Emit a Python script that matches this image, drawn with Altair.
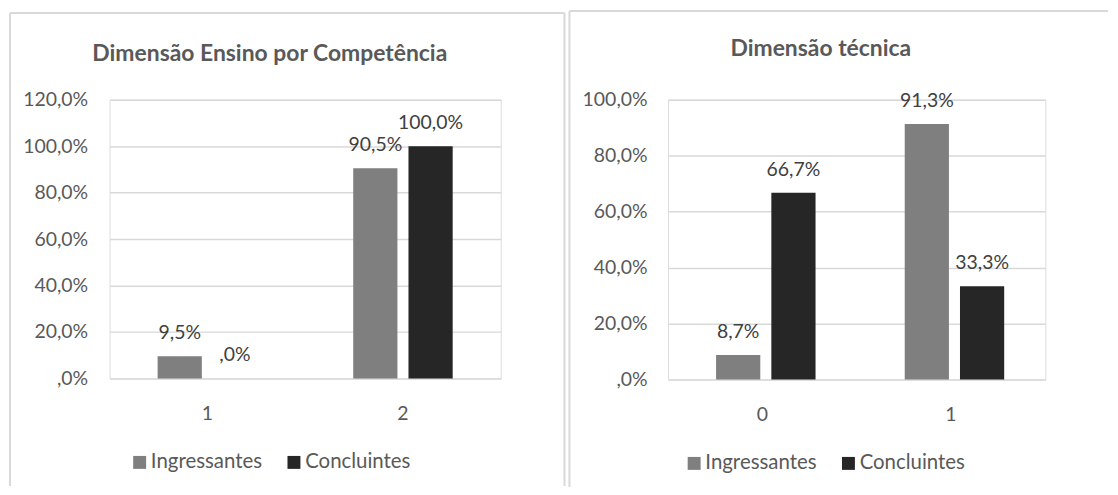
import altair as alt
import pandas as pd

series = ["Ingressantes", "Concluintes"]
series_colors = ["#7f7f7f", "#262626"]

left_title = "Dimensão Ensino por Competência"
left_categories = ["1", "2"]
left_ingressantes = [0.095, 0.905]
left_concluintes = [0.0, 1.0]
left_ticks = [0.0, 0.2, 0.4, 0.6, 0.8, 1.0, 1.2]

right_title = "Dimensão técnica"
right_categories = ["0", "1"]
right_ingressantes = [0.087, 0.913]
right_concluintes = [0.667, 0.333]
right_ticks = [0.0, 0.2, 0.4, 0.6, 0.8, 1.0]

FONT = "Lato"
TXT = "#595959"
LBL = "#404040"
GRID = "#d9d9d9"
FS = 19.5

PCT_AXIS = "datum.value == 0 ? ',0%' : replace(format(datum.value, '.1%'), '.', ',')"
PCT_DATA = "datum.v == 0 ? ',0%' : replace(format(datum.v, '.1%'), '.', ',')"


def one():
    return alt.Chart(pd.DataFrame({"k": [0]}))


def seg(x, y, x2, y2, color=GRID, width=2.0, opacity=1.0):
    return one().mark_rule(color=color, strokeWidth=width, opacity=opacity).encode(
        x=alt.value(x), y=alt.value(y), x2=alt.value(x2), y2=alt.value(y2)
    )


def panel(cats, ing, con, title, ticks, ymax, w, h, geo):
    df = pd.DataFrame({
        "cat": cats + cats,
        "serie": [series[0]] * len(cats) + [series[1]] * len(cats),
        "v": ing + con,
    })
    base = alt.Chart(df)
    x = alt.X("cat:N", sort=cats,
              scale=alt.Scale(paddingInner=0, paddingOuter=0),
              axis=alt.Axis(title=None, labelAngle=0, domain=False, ticks=False,
                            labelPadding=26, labelFont=FONT, labelFontSize=FS,
                            labelColor=TXT, grid=False))
    xo = alt.XOffset("serie:N", sort=series,
                     scale=alt.Scale(paddingInner=0.2, paddingOuter=0.87))
    y = alt.Y("v:Q", scale=alt.Scale(domain=[0, ymax], nice=False, zero=True),
              axis=alt.Axis(title=None, values=ticks, labelExpr=PCT_AXIS,
                            domain=False, ticks=False, grid=True,
                            gridColor=GRID, gridWidth=1.5,
                            labelPadding=geo["ylp"], labelFont=FONT,
                            labelFontSize=FS, labelColor=TXT))
    color = alt.Color("serie:N", sort=series,
                      scale=alt.Scale(domain=series, range=series_colors),
                      legend=alt.Legend(title=None, orient="none",
                                        legendX=geo["lx"], legendY=geo["ly"],
                                        direction="horizontal", columns=2,
                                        symbolType="square", symbolSize=169,
                                        symbolStrokeWidth=0, symbolOpacity=1,
                                        labelFont=FONT, labelFontSize=20.5,
                                        labelColor=TXT, labelOffset=1,
                                        columnPadding=21, padding=0))
    bars = base.mark_bar().encode(x=x, xOffset=xo, y=y, color=color)
    labels = base.transform_calculate(lbl=PCT_DATA).mark_text(
        baseline="alphabetic", dy=-17, font=FONT, fontSize=FS, color=LBL
    ).encode(x=alt.X("cat:N", sort=cats), xOffset=alt.XOffset("serie:N", sort=series),
             y="v:Q", text="lbl:N")
    ttl = alt.Chart(pd.DataFrame({"t": [title]})).mark_text(
        font=FONT, fontWeight="bold", fontSize=23, color=TXT,
        align="center", baseline="middle"
    ).encode(x=alt.value(geo["tx"]), y=alt.value(geo["ty"]), text="t:N")
    b = geo["border"]
    layers = [
        seg(b["x1"], b["y1"], b["x2"], b["y1"]),
        seg(b["x1"], b["y1"], b["x1"], b["y2"]),
    ]
    if b.get("right", True):
        layers.append(seg(b["x2"], b["y1"], b["x2"], b["y2"]))
    layers.append(seg(geo["ax"], geo["ay"], geo["ax"], geo["ay"] + 1,
                      color="#ffffff", width=0.01, opacity=0))
    layers += [bars, labels, ttl]
    return alt.layer(*layers).properties(width=w, height=h)


left = panel(left_categories, left_ingressantes, left_concluintes, left_title,
             left_ticks, 1.2, 393, 280,
             dict(ylp=22, lx=20, ly=354, tx=161, ty=-46, ax=-101, ay=-90,
                  border=dict(x1=-100, y1=-87, x2=457, y2=388)))
right = panel(right_categories, right_ingressantes, right_concluintes, right_title,
              right_ticks, 1.0, 379, 281,
              dict(ylp=21, lx=16, ly=355, tx=153.5, ty=-51, ax=-100, ay=-89,
                   border=dict(x1=-99, y1=-89, x2=442, y2=389, right=False)))

chart = alt.hconcat(left, right, spacing=1).resolve_scale(
    color="independent"
).configure_view(stroke=None).configure(
    font=FONT, background="#ffffff"
).properties(padding=0)

chart.save("out.html", embed_options={"renderer": "svg", "actions": False})
